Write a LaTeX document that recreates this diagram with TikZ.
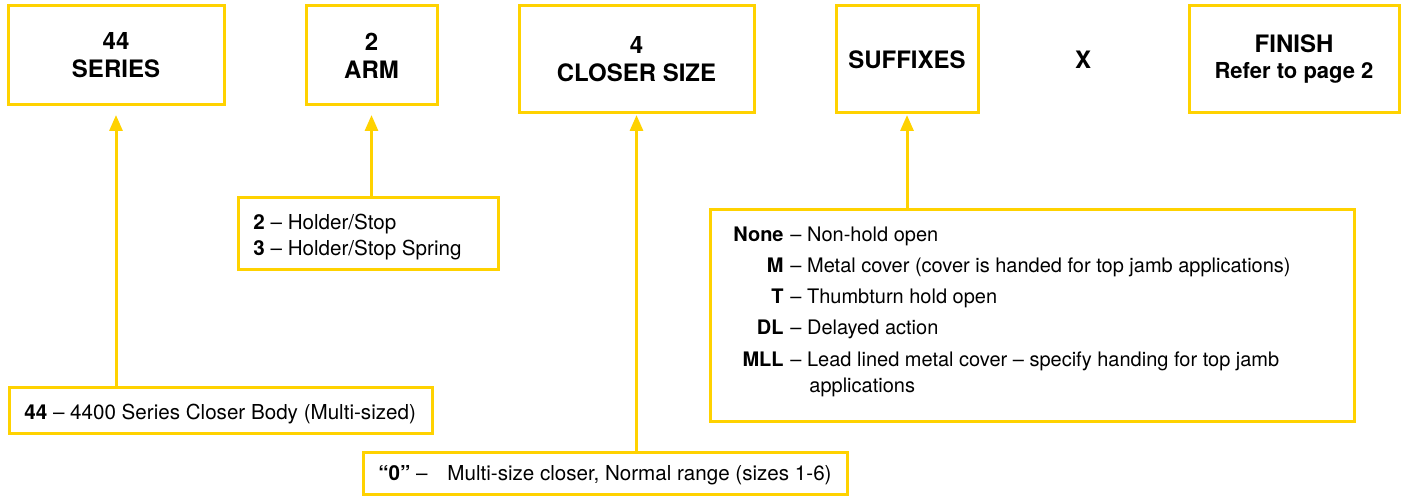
\documentclass[tikz,border=0pt]{standalone}
\usepackage{fontspec}
\setmainfont{TeX Gyre Heros}
\usetikzlibrary{arrows.meta,positioning}
\definecolor{codeyellow}{HTML}{FFD200}

\begin{document}
\begin{tikzpicture}[x=0.5pt,y=-0.5pt, >={Triangle[width=6.5pt,length=8pt]},
  hdr/.style={draw=codeyellow,line width=1.5pt,align=center,inner sep=0pt,
    font=\fontsize{12}{14}\selectfont\bfseries},
  key/.style={draw=codeyellow,line width=1.5pt,inner sep=0pt},
  txt/.style={inner sep=0pt,font=\fontsize{10.3}{12}\selectfont},
  sfx/.style={inner sep=0pt,font=\fontsize{10}{12}\selectfont},
  arr/.style={->,draw=codeyellow,line width=1.5pt}]
  \useasboundingbox (0,0) rectangle (1401,496);
  % ordering code boxes
  \node[hdr,minimum width=108pt,minimum height=49.5pt] (series) at (116,55.5) {44\\SERIES};
  \node[hdr,minimum width=65.5pt,minimum height=49.5pt] (arm) at (371.5,55.5) {2\\ARM};
  \node[hdr,minimum width=117.5pt,minimum height=53.5pt] (size) at (636.5,59.5) {4\\CLOSER SIZE};
  \node[hdr,minimum width=71pt,minimum height=53.5pt] (suffix) at (907,59.5) {SUFFIXES};
  \node[inner sep=0pt,font=\fontsize{12}{14}\selectfont\bfseries] (times) at (1083,60) {X};
  \node[hdr,minimum width=105pt,minimum height=53.5pt] (finish) at (1294,59.5)
    {FINISH\\[-1pt]{\fontsize{11}{13}\selectfont Refer to page 2}};
  \coordinate (tipline) at (0,115);

  % key boxes
  \node[key,minimum width=130pt,minimum height=36pt] (armkey) at (368,234) {};
  \node[key,minimum width=211.5pt,minimum height=23pt] (serieskey) at (220.5,410) {};
  \node[key,minimum width=242pt,minimum height=21pt] (sizekey) at (605,473) {};
  \node[key,minimum width=322pt,minimum height=105.5pt] (suffixkey) at (1032,315.5) {};

  \node[txt,anchor=base west] (arm2) at (253,230) {\textbf{2} -- Holder/Stop};
  \node[txt,anchor=base west] (arm3) at (253,256) {\textbf{3} -- Holder/Stop Spring};
  \node[txt,anchor=base west] (series44) at (24,419) {\textbf{44} -- 4400 Series Closer Body (Multi-sized)};
  \node[txt,anchor=base west] (size0) at (378,480) {\textbf{``0''} --};
  \node[txt,anchor=base west] (size0txt) at (447,480) {Multi-size closer, Normal range (sizes 1-6)};

  \foreach \code/\desc/\y [count=\i] in {None/Non-hold open/242,
      M/Metal cover (cover is handed for top jamb applications)/273,
      T/Thumbturn hold open/304, DL/Delayed action/335,
      MLL/Lead lined metal cover -- specify handing for top jamb/366}{
    \node[sfx,anchor=base east] (sc\i) at (784,\y) {\textbf{\code}};
    \node[sfx,anchor=base west] (sd\i) at (790,\y) {-- \desc};
  }
  \node[sfx,anchor=base west] (sd6) at (809,392) {applications};

  % arrows
  \draw[arr] (serieskey.north -| series.south) -- (series.south |- tipline);
  \draw[arr] (armkey.north -| arm.south) -- (arm.south |- tipline);
  \draw[arr] (sizekey.north -| size.south) -- (size.south |- tipline);
  \draw[arr] (suffixkey.north -| suffix.south) -- (suffix.south |- tipline);
\end{tikzpicture}
\end{document}
